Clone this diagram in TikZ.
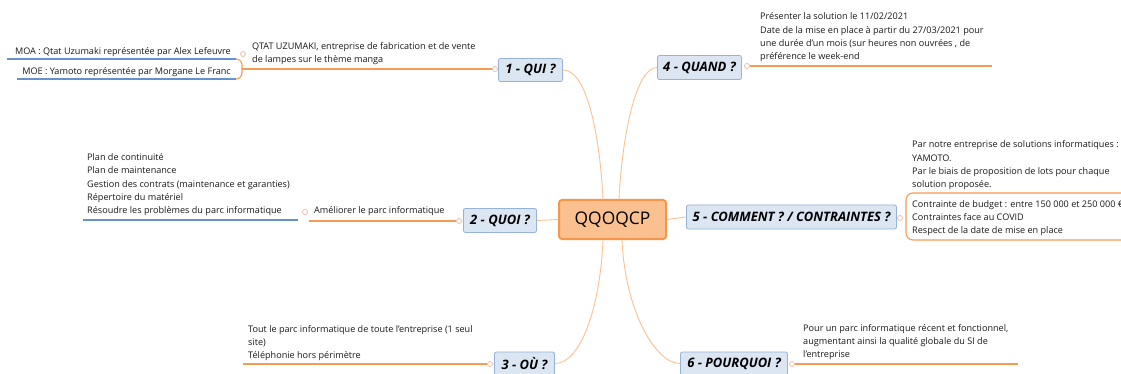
\documentclass[tikz,border=0pt]{standalone}
\usepackage{fontspec}
\setmainfont{Open Sans}
\definecolor{lvlB}{HTML}{95B3D7}
\definecolor{lvlF}{HTML}{DCE6F2}
\definecolor{ctrB}{HTML}{F79646}
\definecolor{ctrF}{HTML}{FAC090}
\definecolor{curveC}{HTML}{FBC28F}
\definecolor{ulO}{HTML}{F79A52}
\definecolor{ulB}{HTML}{6492CC}
\definecolor{dotC}{HTML}{F2B8A0}
\begin{document}
\begin{tikzpicture}[x=1pt,y=-1pt,
  every node/.style={font=\fontsize{9.1}{13.3}\selectfont, text=black!90},
  lvl/.style={draw=lvlB, fill=lvlF, rounded corners=2pt, line width=0.8pt, inner sep=0pt,
    font=\fontsize{13}{15}\selectfont\bfseries\itshape, text=black},
  ctr/.style={draw=ctrB, fill=ctrF, rounded corners=3pt, line width=2pt, inner sep=0pt,
    minimum width=107pt, minimum height=39pt, font=\fontsize{17.4}{20}\selectfont, text=black},
  txt/.style={inner sep=0pt, align=left, anchor=south west, text depth=0pt},
  dot/.style={circle, draw=dotC, fill=white, line width=0.7pt, minimum size=5pt, inner sep=0pt},
  conn/.style={draw=curveC, line width=0.9pt},
  ou/.style={draw=ulO, line width=1.1pt},
  bu/.style={draw=ulB, line width=1.1pt}]
\useasboundingbox (0,0) rectangle (1121,374);
\fill[white] (0,0) rectangle (1121,374);

% centre
\node[ctr] (c) at (612.5,219.5) {QQOQCP};

% level 1
\node[lvl, minimum width=64pt, minimum height=23pt] (qui) at (530.5,70) {1 - QUI ?};
\node[lvl, minimum width=84pt, minimum height=24pt] (quand) at (699.5,67.5) {4 - QUAND ?};
\node[lvl, minimum width=73pt, minimum height=24pt] (quoi) at (500,220.5) {2 - QUOI ?};
\node[lvl, minimum width=210pt, minimum height=24pt] (comment) at (791.5,217) {5 - COMMENT ? / CONTRAINTES ?};
\node[lvl, minimum width=60pt, minimum height=23pt] (ou) at (524.5,363.5) {3 - OÙ ?};
\node[lvl, minimum width=107pt, minimum height=23pt] (pourquoi) at (734,363.5) {6 - POURQUOI ?};

% connectors from centre
\draw[conn] ([xshift=-9.5pt]c.north) .. controls +(-3,-60) and +(25,0) .. (qui.east);
\draw[conn] ([xshift=6.5pt]c.north) .. controls +(3,-60) and +(-22,0) .. (quand.west);
\draw[conn] ([xshift=-9.5pt]c.south) .. controls +(-3,70) and +(25,0) .. (ou.east);
\draw[conn] ([xshift=9.5pt]c.south) .. controls +(3,70) and +(-25,0) .. (pourquoi.west);
\draw[conn] (c.west) -- (quoi.east);
\draw[conn] (c.east) -- (comment.west);

% ---- 1 - QUI
\node[dot] (quidot) at (495,69) {};
\coordinate (quiL) at (242,69);
\draw[ou] (quidot.west) -- (quiL);
\node[txt] (qtat) at (252,63) {QTAT UZUMAKI, entreprise de fabrication et de vente\\de lampes sur le thème manga};
\node[dot] (qtatdot) at (243,54) {};
\node[inner sep=0pt, anchor=base east] (moa) at (231,55) {MOA : Qtat Uzumaki représentée par Alex Lefeuvre};
\node[inner sep=0pt, anchor=base east] (moe) at (231,75) {MOE : Yamoto représentée par Morgane Le Franc};
\coordinate (moaL) at (7,59);
\coordinate (moaR) at (236,59);
\coordinate (moeL) at (17,79);
\coordinate (moeR) at (236,79);
\draw[bu] (moaL) -- (moaR);
\draw[bu] (moeL) -- (moeR);
\draw[ou, rounded corners=6pt] (moaR) -- (242,59) -- (242,79) -- (moeR);

% ---- 4 - QUAND
\node[dot] (quanddot) at (747,66) {};
\coordinate (quandR) at (992,66);
\draw[ou] (quanddot.east) -- (quandR);
\node[txt] (quandt) at (760,60) {Présenter la solution le 11/02/2021\\Date de la mise en place à partir du 27/03/2021 pour\\une durée d’un mois (sur heures non ouvrées , de\\préférence le week-end};

% ---- 2 - QUOI
\node[dot] (quoidot) at (459,221) {};
\coordinate (amelL) at (309,221);
\draw[ou] (quoidot.west) -- (amelL);
\node[inner sep=0pt, anchor=base west] (amel) at (314,214) {Améliorer le parc informatique};
\node[dot] (ameldot) at (305,212) {};
\coordinate (quoiBL) at (83,220);
\coordinate (quoiBR) at (298,220);
\draw[bu] (quoiBL) -- (quoiBR);
\node[txt] (quoit) at (87,214) {Plan de continuité\\Plan de maintenance\\Gestion des contrats (maintenance et garanties)\\Répertoire du matériel\\Résoudre les problèmes du parc informatique};

% ---- 5 - COMMENT
\node[dot] (commdot) at (900,218) {};
\coordinate (brT) at (1125,193);
\coordinate (brB) at (1125,240);
\draw[ou, rounded corners=7pt] (brT) -- (906,193) -- (906,240) -- (brB);
\node[txt] (comm1) at (912,188) {Par notre entreprise de solutions informatiques :\\YAMOTO.\\Par le biais de proposition de lots pour chaque\\solution proposée.};
\node[txt] (comm2) at (912,234) {Contrainte de budget : entre 150 000 et 250 000 €\\Contraintes face au COVID\\Respect de la date de mise en place};

% ---- 3 - OÙ
\node[dot] (oudot) at (490,364) {};
\coordinate (ouL) at (243,364);
\draw[ou] (oudot.west) -- (ouL);
\node[txt] (out) at (248,359) {Tout le parc informatique de toute l’entreprise (1 seul\\site)\\Téléphonie hors périmètre};

% ---- 6 - POURQUOI
\node[dot] (pqdot) at (792,364) {};
\coordinate (pqR) at (1018,364);
\draw[ou] (pqdot.east) -- (pqR);
\node[txt] (pqt) at (803,358) {Pour un parc informatique récent et fonctionnel,\\augmentant ainsi la qualité globale du SI de\\l’entreprise};
\end{tikzpicture}
\end{document}
